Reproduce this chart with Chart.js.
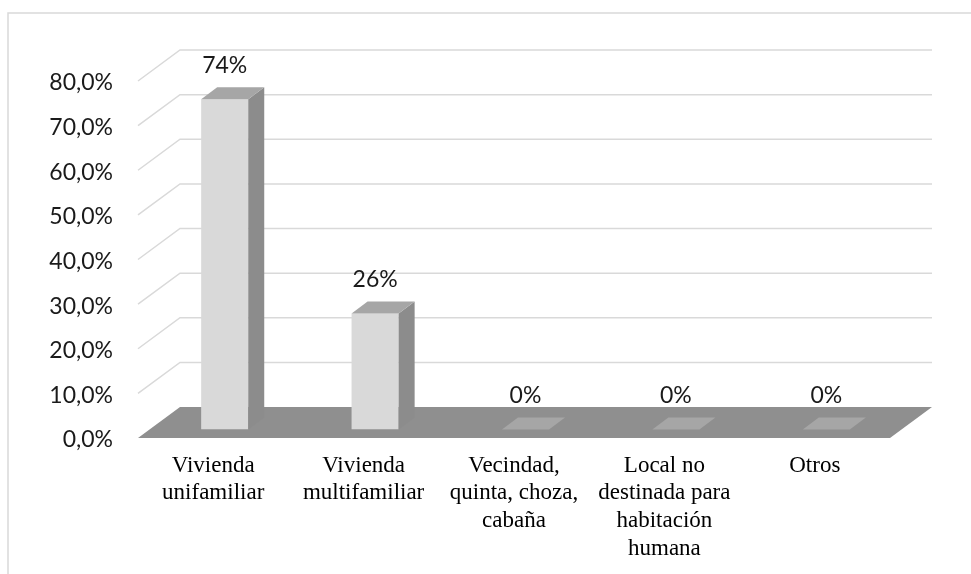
<!DOCTYPE html>
<html><head><meta charset="utf-8">
<script src="https://cdn.jsdelivr.net/npm/chart.js@4/dist/chart.umd.min.js"></script>
<style>html,body{margin:0;padding:0;background:#fff}#wrap{width:971px;height:574px;position:relative}</style>
</head><body><div id="wrap"><canvas id="c"></canvas></div>
<script>
const categories = [["Vivienda","unifamiliar"],["Vivienda","multifamiliar"],["Vecindad,","quinta, choza,","cabaña"],["Local no","destinada para","habitación","humana"],["Otros"]];
const values = [74, 26, 0, 0, 0];
const valueLabels = ["74%","26%","0%","0%","0%"];
const yMin = 0, yMax = 80, yStep = 10;

// 3D geometry (pixels)
const WDX = 42, WDY = -31;     // wall depth
const BOX = 11.5, BOY = -8.5;  // bar front offset inside depth
const BDX = 16, BDY = -12;     // bar depth

const threeD = {
  id: 'threeD',
  beforeDraw(chart) {
    const ctx = chart.ctx;
    ctx.save();
    ctx.strokeStyle = '#d9d9d9'; ctx.lineWidth = 1.5;
    ctx.beginPath(); ctx.moveTo(8, 580); ctx.lineTo(8, 13); ctx.lineTo(980, 13); ctx.stroke();
    ctx.restore();
  },
  beforeDatasetsDraw(chart) {
    const {ctx, chartArea: a, scales: {y}} = chart;
    ctx.save();
    ctx.strokeStyle = '#d9d9d9'; ctx.lineWidth = 1.5;
    y.ticks.forEach(t => {
      if (t.value === y.min) return;
      const py = y.getPixelForValue(t.value);
      ctx.beginPath();
      ctx.moveTo(a.left, py); ctx.lineTo(a.left + WDX, py + WDY); ctx.lineTo(a.right + WDX, py + WDY);
      ctx.stroke();
    });
    const b = y.getPixelForValue(0);
    ctx.fillStyle = '#8f8f8f';
    ctx.beginPath();
    ctx.moveTo(a.left, b); ctx.lineTo(a.right, b); ctx.lineTo(a.right + WDX, b + WDY); ctx.lineTo(a.left + WDX, b + WDY);
    ctx.closePath(); ctx.fill();
    ctx.restore();
    ctx.save();
    ctx.translate(BOX, BOY);
  },
  afterDatasetsDraw(chart) {
    const ctx = chart.ctx;
    ctx.restore();
    const meta = chart.getDatasetMeta(0);
    ctx.save();
    meta.data.forEach((el, i) => {
      const p = el.getProps(['x', 'y', 'base', 'width'], true);
      const l = p.x - p.width / 2 + BOX, r = p.x + p.width / 2 + BOX;
      const top = Math.min(p.y, p.base) + BOY, bot = Math.max(p.y, p.base) + BOY;
      if (bot - top > 0.5) {
        ctx.fillStyle = '#8c8c8c';
        ctx.beginPath();
        ctx.moveTo(r, top); ctx.lineTo(r + BDX, top + BDY); ctx.lineTo(r + BDX, bot + BDY); ctx.lineTo(r, bot);
        ctx.closePath(); ctx.fill();
      }
      ctx.fillStyle = '#a6a6a6';
      ctx.beginPath();
      ctx.moveTo(l, top); ctx.lineTo(r, top); ctx.lineTo(r + BDX, top + BDY); ctx.lineTo(l + BDX, top + BDY);
      ctx.closePath(); ctx.fill();
      ctx.fillStyle = '#1a1a1a';
      ctx.font = '23px Lato';
      ctx.textAlign = 'center'; ctx.textBaseline = 'middle';
      ctx.fillText(valueLabels[i], p.x + BOX, top + BDY - 22);
    });
    ctx.restore();
  }
};

new Chart(document.getElementById('c'), {
  type: 'bar',
  data: {
    labels: categories,
    datasets: [{
      data: values,
      backgroundColor: '#d9d9d9',
      borderWidth: 0,
      categoryPercentage: 1,
      barPercentage: 0.313
    }]
  },
  options: {
    responsive: true,
    maintainAspectRatio: false,
    animation: false,
    layout: { padding: { top: 81, right: 81, left: 0, bottom: 0 } },
    plugins: { legend: { display: false }, tooltip: { enabled: false } },
    scales: {
      x: {
        grid: { display: false, drawTicks: false },
        border: { display: false },
        ticks: {
          autoSkip: false, maxRotation: 0, minRotation: 0, padding: 14,
          color: '#000',
          font: { family: 'Liberation Serif', size: 23, lineHeight: 1.2 }
        },
        afterFit(s) { s.height = 136; }
      },
      y: {
        min: yMin, max: yMax,
        grid: { display: false, drawTicks: false },
        border: { display: false },
        ticks: {
          stepSize: yStep, padding: 25, color: '#1a1a1a', labelOffset: 2,
          font: { family: 'Lato', size: 23 },
          callback: v => v.toFixed(1).replace('.', ',') + '%'
        },
        afterFit(s) { s.width = 138; }
      }
    }
  },
  plugins: [threeD]
});
</script>
</body></html>
